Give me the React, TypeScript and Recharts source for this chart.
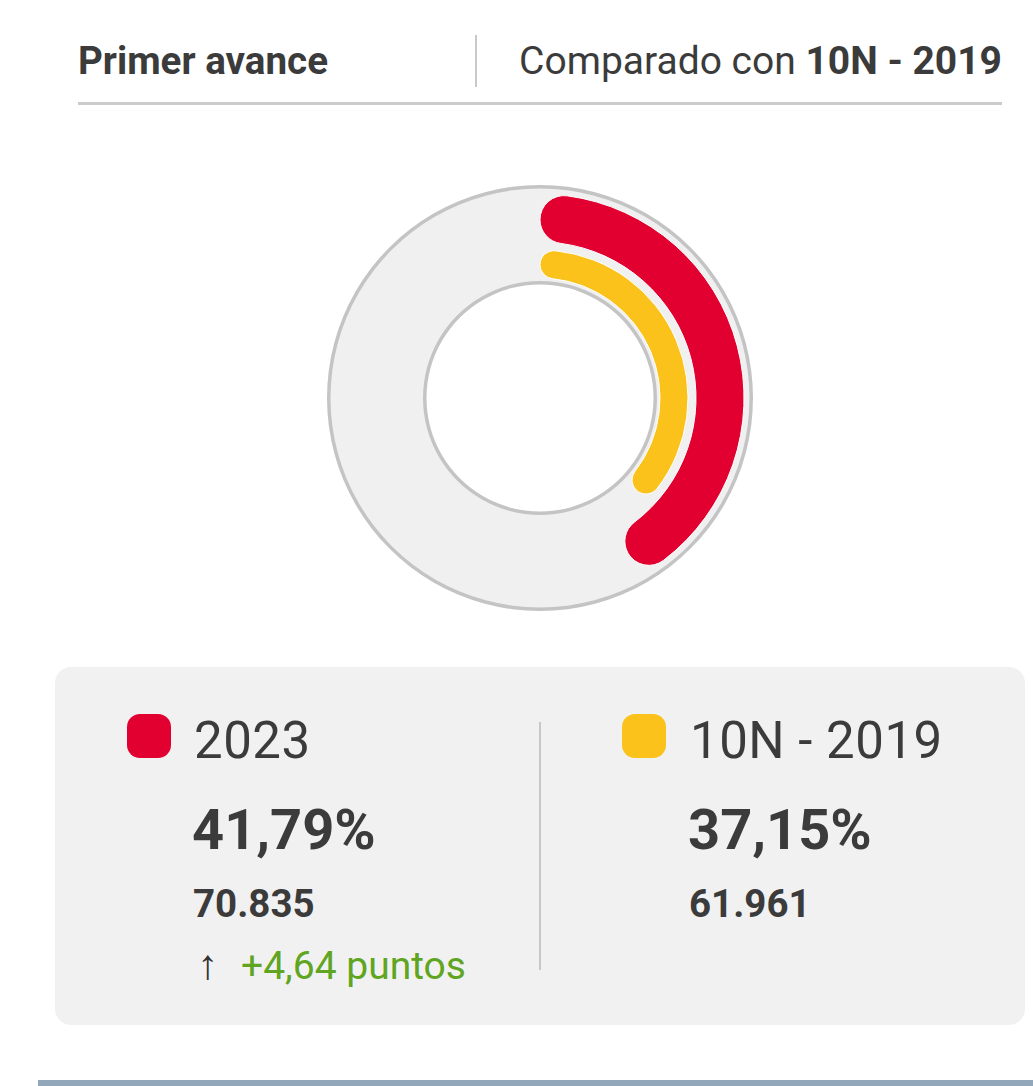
import { PieChart, Pie, Cell } from 'recharts';

const series = ['2023', '10N - 2019'];
const percents = [41.79, 37.15];
const votes = [70835, 61961];
const seriesColors = ['#e1002f', '#fbc21b'];
const diffPoints = 4.64;

const FONT = 'Roboto, "Noto Sans", sans-serif';
const TEXT = '#3b3b3b';

const fmtPct = (v: number) => v.toFixed(2).replace('.', ',') + '%';
const fmtInt = (v: number) => String(v).replace(/\B(?=(\d{3})+(?!\d))/g, '.');

// baseline helper: Roboto with lineHeight 1 puts the baseline ~0.842em below the top
const at = (left: number, baseline: number, size: number) => ({
  position: 'absolute' as const,
  left,
  top: baseline - size * 0.842,
  fontSize: size,
  lineHeight: 1,
  whiteSpace: 'nowrap' as const,
});

function Donut() {
  const full = [{ name: 'fondo', value: 1 }];
  const redData = [
    { name: series[0], value: percents[0] },
    { name: 'resto', value: 100 - percents[0] },
  ];
  const yellowData = [
    { name: series[1], value: percents[1] },
    { name: 'resto', value: 100 - percents[1] },
  ];

  return (
    <PieChart width={440} height={440} margin={{ top: 0, right: 0, bottom: 0, left: 0 }}>
      <Pie data={full} dataKey="value" cx={220} cy={220} innerRadius={115} outerRadius={212}
        startAngle={90} endAngle={-270} fill="#f0f0f0" stroke="none" isAnimationActive={false} />
      <Pie data={full} dataKey="value" cx={220} cy={220} innerRadius={209.5} outerRadius={213}
        startAngle={90} endAngle={-270} fill="#c4c4c4" stroke="none" isAnimationActive={false} />
      <Pie data={full} dataKey="value" cx={220} cy={220} innerRadius={113.5} outerRadius={117}
        startAngle={90} endAngle={-270} fill="#c4c4c4" stroke="none" isAnimationActive={false} />
      <Pie data={redData} dataKey="value" cx={220} cy={220} innerRadius={156} outerRadius={204}
        startAngle={90} endAngle={-270} cornerRadius={24} isAnimationActive={false}>
        <Cell fill={seriesColors[0]} stroke="#fff" strokeWidth={1} />
        <Cell fill="transparent" stroke="none" />
      </Pie>
      <Pie data={yellowData} dataKey="value" cx={220} cy={220} innerRadius={120} outerRadius={148}
        startAngle={90} endAngle={-270} cornerRadius={14} isAnimationActive={false}>
        <Cell fill={seriesColors[1]} stroke="#fff" strokeWidth={1} />
        <Cell fill="transparent" stroke="none" />
      </Pie>
    </PieChart>
  );
}

export default function App() {
  const cols = [
    { sq: 127, text: 194, big: 192 },
    { sq: 622, text: 690, big: 688 },
  ];
  return (
    <div style={{ position: 'absolute', left: 0, top: 0, width: 1033, height: 1086, background: '#fff', fontFamily: FONT, color: TEXT, overflow: 'hidden' }}>
      {/* header */}
      <div style={{ ...at(78, 75, 38.6), fontWeight: 700 }}>Primer avance</div>
      <div style={{ position: 'absolute', left: 475, top: 35, width: 2, height: 52, background: '#c9c9c9' }} />
      <div style={{ ...at(0, 75, 39), left: undefined, right: 31 }}>
        Comparado con <b>{series[1]}</b>
      </div>
      <div style={{ position: 'absolute', left: 78, top: 102, width: 924, height: 3, background: '#cbcbcb' }} />

      {/* donut */}
      <div style={{ position: 'absolute', left: 320, top: 178 }}>
        <Donut />
      </div>

      {/* legend card */}
      <div style={{ position: 'absolute', left: 55, top: 667, width: 970, height: 358, background: '#f1f1f1', borderRadius: 16 }} />
      <div style={{ position: 'absolute', left: 539, top: 722, width: 2, height: 248, background: '#c8c8c8' }} />
      {series.map((s, i) => (
        <div key={s}>
          <div style={{ position: 'absolute', left: cols[i].sq, top: 714, width: 44, height: 44, borderRadius: 13, background: seriesColors[i] }} />
          <div style={{ ...at(cols[i].text, 758, 51), letterSpacing: 0.5 }}>{s}</div>
          <div style={{ ...at(cols[i].big, 849, 56), fontWeight: 700 }}>{fmtPct(percents[i])}</div>
          <div style={{ ...at(cols[i].big + 1, 917, 38.5), fontWeight: 700 }}>{fmtInt(votes[i])}</div>
        </div>
      ))}
      <div style={{ ...at(197, 979, 42), color: '#333' }}>↑</div>
      <div style={{ ...at(241, 980, 39), color: '#5fa521' }}>+{diffPoints.toFixed(2).replace('.', ',')} puntos</div>

      {/* bottom bar */}
      <div style={{ position: 'absolute', left: 38, top: 1080, width: 995, height: 6, background: '#93a7bb' }} />
    </div>
  );
}
